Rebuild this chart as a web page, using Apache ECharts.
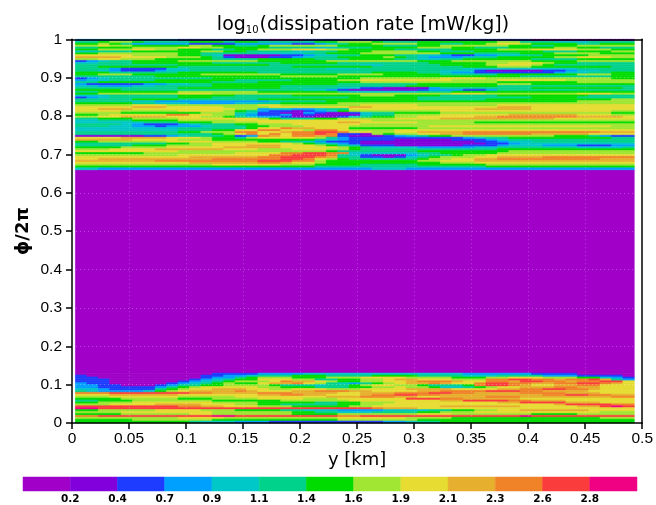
<!DOCTYPE html>
<html>
<head>
<meta charset="utf-8">
<script src="https://cdn.jsdelivr.net/npm/echarts@6/dist/echarts.min.js"></script>
<style>
  html, body { margin: 0; padding: 0; background: #fff; }
  #chart { width: 656px; height: 505px; }
</style>
</head>
<body>
<div id="chart"></div>
<script>
// GrADS rainbow shading, level 0 (lowest) .. level c (highest)
const levelColors = ['#a000c8', '#8200dc', '#1e3cff', '#00a0ff', '#00c8c8', '#00d28c', '#00dc00',
  '#a0e632', '#e6dc32', '#e6af2d', '#f08228', '#fa3c3c', '#f00082']
const colorbarLabels = ['0.2', '0.4', '0.7', '0.9', '1.1', '1.4', '1.6', '1.9', '2.1', '2.3', '2.6', '2.8']

// grid of the field: columns along y [km], rows along phi/2pi
const colStart = 0.003
const colStep = 0.01
const rowStep = 0.005
const topStart = 1.0       // upper turbulent layer, rows read downward from here
const bottomStart = 0.13   // lower turbulent layer, rows read downward from here
const calmBand = [0.13, 0.66]
const calmLevel = 0

// one char per cell (hex level), spaces only for reading
const topRows = [
  '3344433 3322222 2221112 2222222 1122222 2222211 1111111',
  '5567765 5556665 6655555 6677765 5566666 6677555 4445555',
  '6676533 3332222 3333322 3456677 7766556 6788766 6655666',
  '7787766 6667766 5567777 7766665 5566777 7776655 6677777',
  '5566677 7788776 6665555 4455566 6677766 5556666 7766555',
  '6677788 7766655 6677788 8776666 5555566 6677788 8877766',
  '4455566 6666776 6555544 5566677 7766555 6666665 5566677',
  '6677777 7766555 5544445 5666777 7777666 5555666 7777666',
  '8888877 7766541 1111223 4455666 5544322 3344556 6667777',
  '9999888 8777652 1112234 5566667 6543334 5566666 7788877',
  '7788777 6666655 5566666 5556666 5544556 6666655 5566666',
  '2345566 6677777 7766666 6777777 7766677 7777766 6677777',
  '4455566 6666655 5555666 6655555 5556666 6778887 6655555',
  '5555555 5566666 6665555 5555445 5555666 6788876 5555555',
  '5566666 6655555 5555566 6666655 5555556 6677766 6666655',
  '5553222 2445555 5555555 5444555 5555554 4444444 4455555',
  '5543222 3445555 5555555 5555555 5555444 2111112 2344555',
  '6665555 5566666 6655555 5555566 6655433 2222222 3445566',
  '6677766 6666777 7777666 6677776 6666555 5566666 6677766',
  '5555555 6666666 6666777 7766666 6666666 6666555 5555566',
  '2345555 5555566 6666666 6666777 7777888 8777777 7777766',
  '3445555 6666666 5555566 6677888 8888877 7788888 8777777',
  '5566666 6666655 5566666 6666777 7777777 7766666 6677777',
  '3222223 3445566 6666666 6655555 5566666 6677766 6666666',
  '4433344 5555566 6666555 5555555 5666666 6655555 5555555',
  '5555555 5566666 6666555 5544221 1113555 5555566 6666665',
  '6666555 5555555 5555554 4321111 1123332 2355555 5555555',
  '5566666 6677777 7766666 6654444 4455566 6666666 6666666',
  '6677777 7788877 7777777 7777777 7777788 8777777 7788877',
  '4445555 5566666 5555566 6666777 6666555 5566666 6665555',
  '2345555 5566655 5555555 5556666 6655555 5555566 6655555',
  '5555566 6655555 5566666 6666666 6655555 5666666 6666677',
  '5555544 3333333 3334555 5666666 6666666 6666666 6677777',
  '6666655 4443333 4455666 6677777 7777777 7777777 7777777',
  '7777788 8777777 7788777 7777888 8877777 7788888 8888888',
  '8888899 9888887 7778888 8889988 8888888 8899988 8888888',
  '8899988 8888888 7734433 4558888 8888888 9999988 8888888',
  '8888777 7788887 6532212 3467777 7777888 8888888 8888877',
  '7777666 6666777 5422113 2112455 6666777 7777777 7777766',
  '6678888 8aa8877 4322312 1111455 7777888 8889999 9988877',
  '7788999 9888776 5433211 1124566 7788888 99aaaaa aa99998',
  '5566677 7788888 8876555 6677777 8888999 9999999 8888888',
  '4455566 6677777 8888888 8888877 7777777 7777777 7777777',
  '4444445 5566677 7788888 8899888 8877777 6666666 6666666',
  '5555432 2234555 6677788 8888777 7777777 7777777 7777777',
  '5554433 2333455 5667778 8887777 7778888 8888888 8888877',
  '4444444 4455555 5688a99 8886666 6677777 7777777 7777777',
  '4444444 4455566 88aa887 aa87777 8888888 8888888 8888888',
  '5555555 5566777 aa889aa bba8877 889999a aaaaaaa aaaa999',
  '5555555 5555567 8a8a8aa ba22176 778899a aaaaa99 9998888',
  '1111112 2345556 23a98aa 9a21112 3456677 7777777 6665322',
  '8888999 9888766 5788888 7532222 2222223 4556666 6666655',
  '9999988 8877766 6666666 5432222 1111122 2345555 5555555',
  '6677777 7888877 7766554 3222111 1111111 2234455 5555555',
  '5555555 5667788 8888876 5432111 1111111 1223444 4444444',
  '5555566 6777788 8999888 7654222 1111112 2234443 3322233',
  '6666777 7888889 9999888 8876544 4433333 4455555 5544445',
  '7778888 9999998 8877788 8776555 5555555 5566666 6666666',
  '8888888 8877777 7777777 7655555 5566666 6667777 7777777',
  '6666667 7777777 8888aab baa4444 4455666 6677777 7777777',
  '7777777 7788888 888aabb ba54211 1345567 7888888 8888888',
  '8888888 8889999 99aabbb a955221 2456777 889999a aaaaaaa',
  '8899999 99999aa aaaabba 8765544 5567788 99aaaaa aaaa999',
  '9999999 aaaaaaa aabbbaa 7666666 6677888 9999999 9999999',
  '8888888 8889999 99aa988 7666666 6666777 8888888 8888888',
  '7777777 7777788 8888777 6666555 5566666 6777777 7777777',
  '6666666 6666666 6666666 5555555 5555555 5666666 6666666',
  '4433333 3333333 3333333 3333344 4333333 3333333 3333333'
]

const bottomRows = [
  '0000000 0000022 2233334 4444444 4444443 3333322 2200000',
  '2000000 0000223 3455566 6555566 6655554 4455553 3322220',
  '2200000 0000233 5677766 6777888 8777766 6778887 7766432',
  '2220000 0002345 6688877 5566778 9988877 7aabbaa 9aab953',
  '2220000 0023456 7778a99 8766778 89aaa98 8aa9bba a9aabb8',
  '3220000 0234567 66899a8 7543567 899a988 abbaa99 aabba98',
  '3322000 2355667 7776555 4556788 7765556 abba988 99aa888',
  '3322222 3567888 8877666 5556677 8776445 6788999 aa99888',
  '4432222 5678899 9887788 8777888 8999988 8899aab baa9888',
  '5433334 6789999 a988899 aaa9988 8899aaa abbbaa9 9998888',
  'aaabbbb bbbaa99 99aaa99 9988999 aaabbaa 9999aaa a999888',
  '8889999 9988888 8899aa9 98889aa bbaa999 999999a abbaa99',
  '7778888 8877777 8888888 8999aaa 9988999 9aaa999 99999aa',
  '6666777 7766677 7788887 7788888 8bbbaa9 9999888 8888888',
  '5566677 7777766 6666777 7778888 888899b bbbaa99 9888888',
  '6677788 8888877 7766666 5566777 8888888 8899bbb b999888',
  '7778888 9999888 7766555 5566778 8888888 8888888 9bbbbaa',
  'bbbbbbb bbaa998 8877766 6667788 8888999 9999888 8899bcb',
  'ccbbbbb bbbbbbb bbbbbbb bbbbba9 9988888 8888888 8888888',
  '6677777 8888777 6666554 4433334 4445566 7788999 9998888',
  '7777888 8888877 7777766 5544455 5566777 8888888 8888777',
  '6666777 7778877 7777766 6677777 7788877 7777766 6677777',
  'aabbbbb bbbbbcc bbbbbbb bbaabbb bbbbbbb bbbbcbb bbbbbbb',
  '7777777 7788887 7777777 7788888 8777766 6666666 6666777',
  '6666677 7777766 6666666 6677777 7766666 6666666 6666666',
  '6666666 6665444 3332222 2222223 3455666 6666666 6666666'
]

function rowsToCells(rows, phiStart) {
  const cells = []
  rows.forEach((row, r) => {
    const s = row.replace(/ /g, '')
    const phiTop = phiStart - r * rowStep
    for (let i = 0; i < s.length; i++) {
      const x0 = colStart + i * colStep
      cells.push([x0, phiTop - rowStep, x0 + colStep, phiTop, parseInt(s[i], 16)])
    }
  })
  return cells
}

const nCols = topRows[0].replace(/ /g, '').length
const fieldCells = [[colStart, calmBand[0], colStart + nCols * colStep, calmBand[1], calmLevel]]
  .concat(rowsToCells(topRows, topStart))
  .concat(rowsToCells(bottomRows, bottomStart))

const colorbarCells = levelColors.map((c, i) => [i, i + 1, i])

const chart = echarts.init(document.getElementById('chart'))

const axisBlack = { color: '#000', width: 1.5 }
const dotted = { show: true, lineStyle: { color: 'rgba(255,255,255,0.28)', type: [1, 3], width: 1 } }

chart.setOption({
  animation: false,
  title: {
    text: '{a|log}{s|10}{a|(dissipation rate [mW/kg])}',
    left: 358,
    top: 11,
    textAlign: 'center',
    textStyle: {
      fontWeight: 'normal',
      rich: {
        a: { fontFamily: 'DejaVu Sans', fontSize: 19, fontWeight: 'normal', color: '#000' },
        s: { fontFamily: 'DejaVu Sans', fontSize: 10, fontWeight: 'normal', color: '#000', verticalAlign: 'bottom', padding: [0, 1, 0, 0] }
      }
    }
  },
  grid: [
    { left: 72, right: 13, top: 39.3, bottom: 82 },
    { left: 23, right: 19, top: 477, height: 15 }
  ],
  xAxis: [{
    gridIndex: 0,
    type: 'value',
    min: 0,
    max: 0.5,
    interval: 0.05,
    z: 5,
    name: 'y [km]',
    nameLocation: 'middle',
    nameGap: 28,
    nameMoveOverlap: false,
    nameTextStyle: { fontFamily: 'DejaVu Sans', fontSize: 18, color: '#000' },
    axisLine: { onZero: false, lineStyle: axisBlack },
    axisTick: { length: 6, lineStyle: axisBlack },
    axisLabel: { color: '#000', fontFamily: 'Liberation Sans', fontSize: 15.5, margin: 8 },
    splitLine: dotted
  }, {
    gridIndex: 0,
    type: 'value',
    position: 'top',
    min: 0,
    max: 0.5,
    z: 5,
    axisLine: { onZero: false, lineStyle: axisBlack },
    axisTick: { show: false },
    axisLabel: { show: false },
    splitLine: { show: false }
  }, {
    gridIndex: 1,
    type: 'value',
    min: 0,
    max: 13,
    interval: 1,
    axisLine: { show: false },
    axisTick: { show: false },
    splitLine: { show: false },
    axisLabel: {
      color: '#000',
      fontFamily: 'DejaVu Sans',
      fontWeight: 'bold',
      fontSize: 10.5,
      margin: 3,
      formatter: v => colorbarLabels[v - 1] || ''
    }
  }],
  yAxis: [{
    gridIndex: 0,
    type: 'value',
    min: 0,
    max: 1,
    interval: 0.1,
    z: 5,
    name: 'ϕ/2π',
    nameLocation: 'middle',
    nameGap: 40,
    nameMoveOverlap: false,
    nameTextStyle: { fontFamily: 'DejaVu Sans', fontSize: 18, fontWeight: 'bold', color: '#000' },
    axisLine: { onZero: false, lineStyle: axisBlack },
    axisTick: { length: 6, lineStyle: axisBlack },
    axisLabel: { color: '#000', fontFamily: 'Liberation Sans', fontSize: 15.5, margin: 10 },
    splitLine: dotted
  }, {
    gridIndex: 0,
    type: 'value',
    position: 'right',
    min: 0,
    max: 1,
    z: 5,
    axisLine: { onZero: false, lineStyle: axisBlack },
    axisTick: { show: false },
    axisLabel: { show: false },
    splitLine: { show: false }
  }, {
    gridIndex: 1,
    type: 'value',
    min: 0,
    max: 1,
    show: false
  }],
  series: [{
    type: 'custom',
    xAxisIndex: 0,
    yAxisIndex: 0,
    clip: true,
    encode: { x: [0, 2], y: [1, 3] },
    data: fieldCells,
    renderItem(params, api) {
      const p0 = api.coord([api.value(0), api.value(3)])
      const p1 = api.coord([api.value(2), api.value(1)])
      const c = levelColors[api.value(4)]
      return {
        type: 'rect',
        shape: { x: p0[0], y: p0[1], width: p1[0] - p0[0], height: p1[1] - p0[1] },
        style: { fill: c, stroke: c, lineWidth: 0.6 }
      }
    }
  }, {
    type: 'custom',
    xAxisIndex: 2,
    yAxisIndex: 2,
    encode: { x: [0, 1] },
    data: colorbarCells,
    renderItem(params, api) {
      const p0 = api.coord([api.value(0), 1])
      const p1 = api.coord([api.value(1), 0])
      const c = levelColors[api.value(2)]
      return {
        type: 'rect',
        shape: { x: p0[0], y: p0[1], width: p1[0] - p0[0], height: p1[1] - p0[1] },
        style: { fill: c, stroke: c, lineWidth: 0.5 }
      }
    }
  }]
})
</script>
</body>
</html>
